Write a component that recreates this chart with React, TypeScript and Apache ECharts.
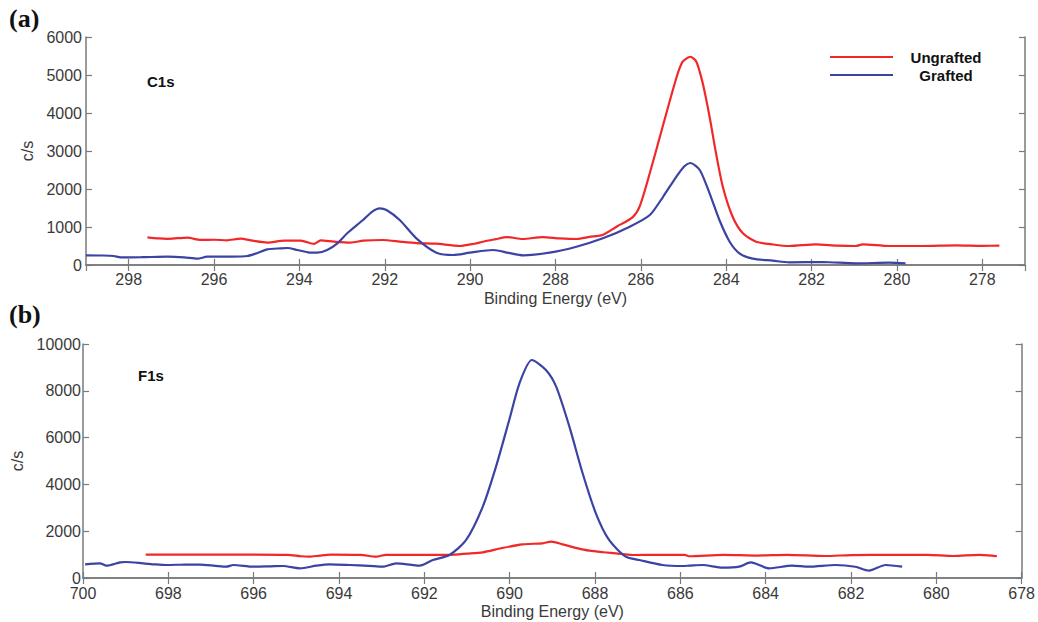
import React, { useEffect, useRef } from "react";
import * as echarts from "echarts";

// ---- C1s panel (a) ----
const c1sUngraftedEnergy = [297.56, 297.3, 297.09, 296.85, 296.63, 296.31, 296.0, 295.7, 295.38, 295.1, 294.75, 294.36, 293.97, 293.66, 293.5, 293.19, 292.8, 292.5, 292.05, 291.6, 291.25, 290.8, 290.24, 289.9, 289.7, 289.4, 289.14, 288.77, 288.3, 287.9, 287.5, 287.2, 286.9, 286.57, 286.19, 286.03, 285.79, 285.49, 285.16, 285.02, 284.84, 284.7, 284.55, 284.39, 284.24, 284.08, 283.85, 283.61, 283.3, 282.9, 282.52, 281.9, 281.4, 280.96, 280.8, 280.18, 279.4, 278.62, 278.0, 277.6];
const c1sUngraftedCounts = [728, 700, 690, 705, 718, 660, 665, 650, 692, 640, 590, 640, 640, 555, 650, 615, 590, 640, 658, 610, 578, 560, 500, 560, 613, 680, 736, 684, 736, 700, 684, 740, 789, 1008, 1262, 1534, 2420, 3637, 4954, 5350, 5480, 5350, 4780, 3900, 2945, 2060, 1270, 834, 613, 540, 500, 544, 510, 500, 544, 500, 500, 518, 505, 508];

const c1sGraftedEnergy = [299.0, 298.6, 298.35, 298.19, 297.7, 297.09, 296.7, 296.39, 296.16, 295.6, 295.22, 295.0, 294.75, 294.44, 294.28, 294.05, 293.8, 293.58, 293.35, 293.11, 292.88, 292.51, 292.3, 292.12, 291.96, 291.65, 291.26, 290.79, 290.4, 290.01, 289.46, 289.1, 288.76, 288.14, 287.51, 286.89, 286.26, 285.79, 285.48, 285.17, 284.98, 284.84, 284.62, 284.39, 284.16, 283.92, 283.69, 283.38, 282.91, 282.52, 281.74, 280.96, 280.18, 279.8];
const c1sGraftedCounts = [255, 250, 237, 202, 205, 218, 200, 166, 218, 220, 237, 310, 413, 439, 447, 395, 334, 324, 395, 570, 834, 1184, 1400, 1491, 1447, 1184, 702, 324, 263, 324, 395, 320, 255, 324, 481, 702, 1008, 1315, 1796, 2322, 2600, 2684, 2500, 1886, 1184, 613, 307, 166, 114, 70, 79, 44, 61, 44];

// ---- F1s panel (b) ----
const f1sUngraftedEnergy = [698.53, 698.0, 697.0, 696.0, 695.2, 694.9, 694.7, 694.45, 694.2, 693.5, 693.13, 692.9, 692.0, 691.41, 691.0, 690.63, 690.2, 689.7, 689.23, 689.03, 688.76, 688.45, 688.13, 687.8, 687.51, 687.12, 686.5, 685.9, 685.8, 685.0, 684.2, 683.5, 682.6, 682.0, 681.0, 680.2, 679.6, 679.0, 678.7, 678.58];
const f1sUngraftedCounts = [1000, 1000, 1000, 1000, 990, 930, 910, 960, 1000, 990, 912, 990, 990, 990, 1040, 1097, 1270, 1439, 1482, 1553, 1439, 1290, 1168, 1100, 1054, 983, 990, 990, 930, 990, 960, 990, 940, 980, 990, 990, 940, 990, 960, 930];

const f1sGraftedEnergy = [699.95, 699.6, 699.45, 699.13, 699.0, 698.59, 698.3, 698.04, 697.6, 697.26, 696.9, 696.64, 696.48, 696.01, 695.6, 695.31, 694.92, 694.53, 694.22, 693.75, 693.3, 692.97, 692.66, 692.3, 692.11, 691.8, 691.41, 691.02, 690.63, 690.32, 690.01, 689.77, 689.48, 689.15, 688.91, 688.6, 688.29, 687.98, 687.67, 687.28, 686.96, 686.42, 685.95, 685.79, 685.48, 685.01, 684.62, 684.35, 683.92, 683.38, 682.99, 682.36, 681.9, 681.58, 681.19, 680.8];
const f1sGraftedCounts = [584, 627, 527, 670, 684, 627, 580, 556, 575, 570, 520, 484, 556, 484, 500, 513, 413, 527, 584, 556, 520, 484, 627, 560, 527, 769, 983, 1624, 3048, 4757, 6753, 8321, 9317, 8890, 8177, 6467, 4475, 2765, 1624, 911, 769, 556, 513, 527, 556, 441, 484, 670, 413, 527, 484, 556, 480, 313, 556, 484];

const seriesNames = ["Ungrafted", "Grafted"];
const RED = "#f02828";
const BLUE = "#3b43a3";
const FONT = "'Liberation Sans', Arial, sans-serif";
const AXIS_COLOR = "#7a7a7a";
const TEXT_COLOR = "#3a3a3a";

const pairs = (xs: number[], ys: number[]) => xs.map((x, i) => [x, ys[i]]);
const plain = (v: number) => String(v);

export default function App() {
  const ref = useRef<HTMLDivElement>(null);

  useEffect(() => {
    if (!ref.current) return;
    const chart = echarts.init(ref.current, undefined, { renderer: "svg" });

    const axisLine = { show: true, lineStyle: { color: AXIS_COLOR, width: 1.5 } };
    const tick = { show: true, inside: true, length: 6, lineStyle: { color: AXIS_COLOR, width: 1.2 } };
    const label = { color: TEXT_COLOR, fontSize: 16, fontFamily: FONT, formatter: plain };
    const nameStyle = { color: TEXT_COLOR, fontSize: 16, fontFamily: FONT };

    const lineSeries = (name: string, color: string, data: number[][], idx: number) => ({
      name,
      type: "line",
      xAxisIndex: idx,
      yAxisIndex: idx,
      data,
      showSymbol: false,
      smooth: 0.25,
      lineStyle: { color, width: 2.2 },
      itemStyle: { color },
    });

    const option: any = {
      animation: false,
      backgroundColor: "#fff",
      grid: [
        { left: 86, right: 13, top: 37, height: 228 },
        { left: 83, right: 15, top: 344, height: 234 },
      ],
      xAxis: [
        {
          gridIndex: 0, type: "value", min: 277, max: 299, splitNumber: 11, inverse: true, position: "bottom",
          axisLine, axisTick: tick, splitLine: { show: false },
          axisLabel: { ...label, margin: 6, showMinLabel: false, showMaxLabel: false },
          name: "Binding Energy (eV)", nameLocation: "middle", nameGap: 25, nameTextStyle: nameStyle,
        },
        {
          gridIndex: 0, type: "value", min: 277, max: 299, splitNumber: 11, inverse: true, position: "top",
          axisLine, axisTick: tick, splitLine: { show: false }, axisLabel: { show: false },
        },
        {
          gridIndex: 1, type: "value", min: 678, max: 700, interval: 2, inverse: true, position: "bottom",
          axisLine, axisTick: tick, splitLine: { show: false },
          axisLabel: { ...label, margin: 7 },
          name: "Binding Energy (eV)", nameLocation: "middle", nameGap: 25, nameTextStyle: nameStyle,
        },
        {
          gridIndex: 1, type: "value", min: 678, max: 700, interval: 2, inverse: true, position: "top",
          axisLine, axisTick: tick, splitLine: { show: false }, axisLabel: { show: false },
        },
      ],
      yAxis: [
        {
          gridIndex: 0, type: "value", min: 0, max: 6000, interval: 1000, position: "left",
          axisLine, axisTick: tick, splitLine: { show: false },
          axisLabel: { ...label, margin: 4 },
          name: "c/s", nameLocation: "middle", nameGap: 46, nameTextStyle: nameStyle,
        },
        {
          gridIndex: 0, type: "value", min: 0, max: 6000, interval: 1000, position: "right",
          axisLine, axisTick: tick, splitLine: { show: false }, axisLabel: { show: false },
        },
        {
          gridIndex: 1, type: "value", min: 0, max: 10000, interval: 2000, position: "left",
          axisLine, axisTick: tick, splitLine: { show: false },
          axisLabel: { ...label, margin: 2 },
          name: "c/s", nameLocation: "middle", nameGap: 57, nameTextStyle: nameStyle,
        },
        {
          gridIndex: 1, type: "value", min: 0, max: 10000, interval: 2000, position: "right",
          axisLine, axisTick: tick, splitLine: { show: false }, axisLabel: { show: false },
        },
      ],
      series: [
        lineSeries(seriesNames[0], RED, pairs(c1sUngraftedEnergy, c1sUngraftedCounts), 0),
        lineSeries(seriesNames[1], BLUE, pairs(c1sGraftedEnergy, c1sGraftedCounts), 0),
        lineSeries(seriesNames[0], RED, pairs(f1sUngraftedEnergy, f1sUngraftedCounts), 2),
        lineSeries(seriesNames[1], BLUE, pairs(f1sGraftedEnergy, f1sGraftedCounts), 2),
      ],
      graphic: [
        { type: "text", left: 9, top: 5, style: { text: "(a)", font: "bold 26px 'Liberation Serif', 'Times New Roman', serif", fill: "#111" } },
        { type: "text", left: 9, top: 301, style: { text: "(b)", font: "bold 26px 'Liberation Serif', 'Times New Roman', serif", fill: "#111" } },
        { type: "text", left: 147, top: 74, style: { text: "C1s", font: `bold 15px ${FONT}`, fill: "#111" } },
        { type: "text", left: 138, top: 368, style: { text: "F1s", font: `bold 15px ${FONT}`, fill: "#111" } },
        { type: "line", shape: { x1: 830, y1: 57, x2: 893, y2: 57 }, style: { stroke: RED, lineWidth: 2.2 } },
        { type: "line", shape: { x1: 830, y1: 75, x2: 893, y2: 75 }, style: { stroke: BLUE, lineWidth: 2.2 } },
        { type: "text", x: 946, y: 57, style: { text: seriesNames[0], font: `bold 15px ${FONT}`, fill: "#111", textAlign: "center", textVerticalAlign: "middle" } },
        { type: "text", x: 946, y: 75, style: { text: seriesNames[1], font: `bold 15px ${FONT}`, fill: "#111", textAlign: "center", textVerticalAlign: "middle" } },
      ],
    };

    chart.setOption(option);
    return () => chart.dispose();
  }, []);

  return <div ref={ref} style={{ width: 1038, height: 622, position: "absolute", left: 0, top: 0 }} />;
}
